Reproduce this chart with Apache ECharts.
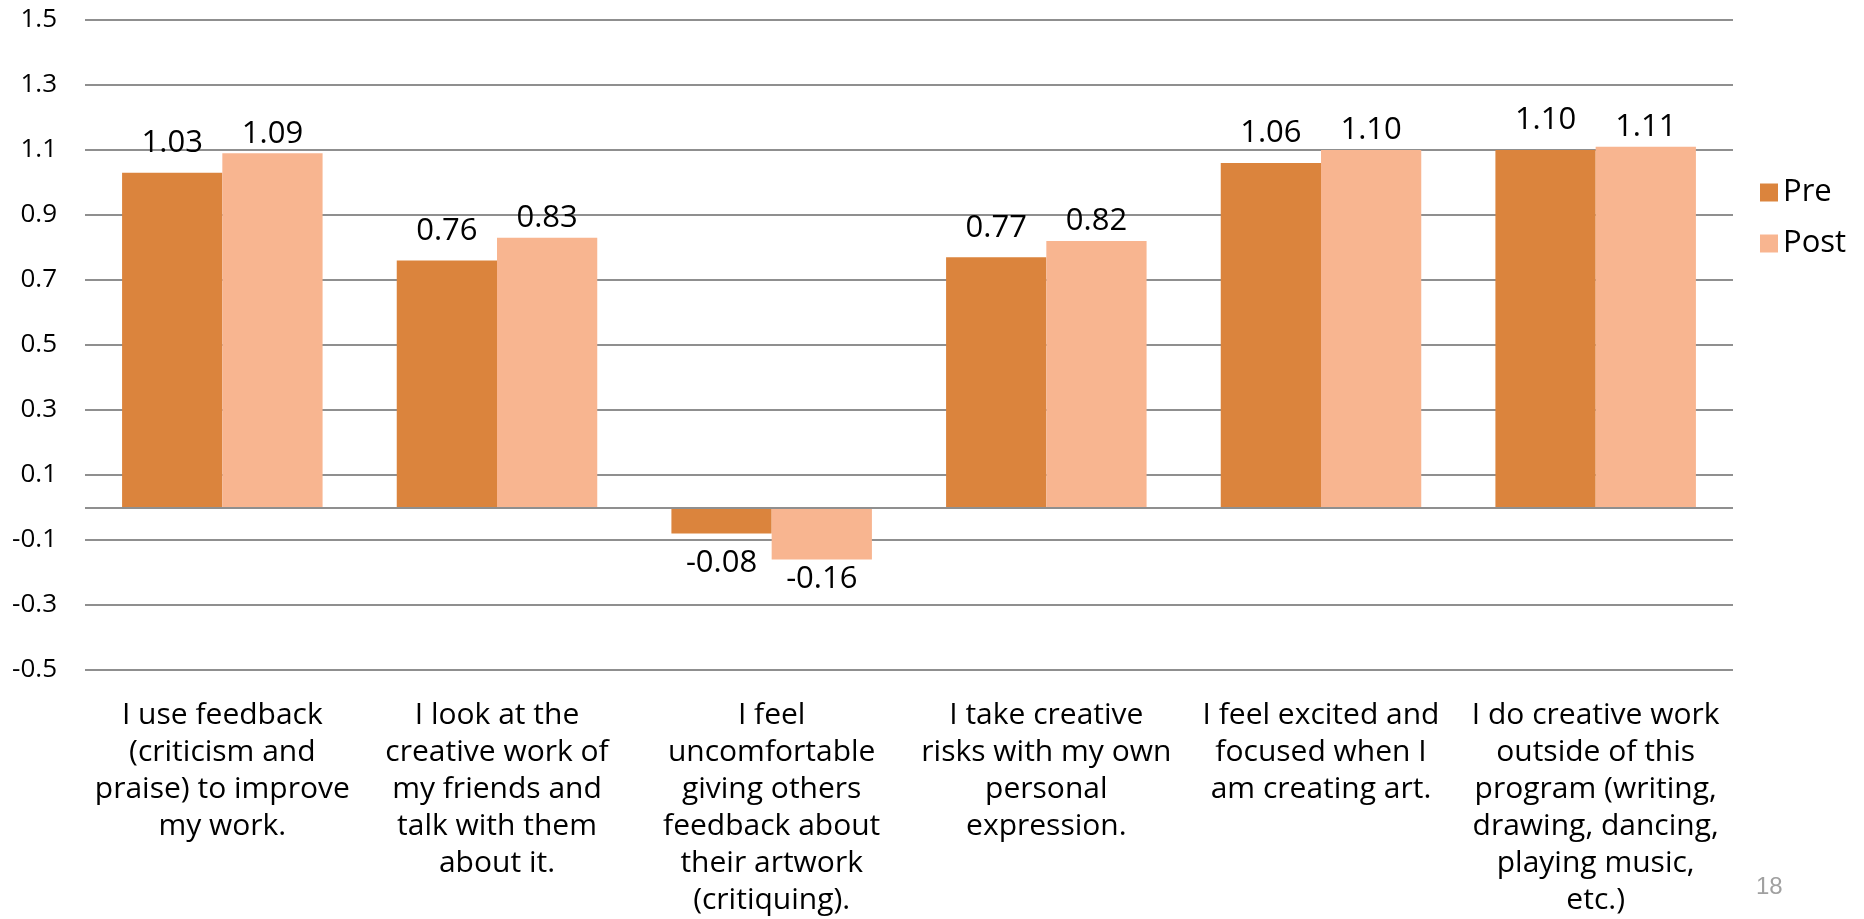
<!DOCTYPE html>
<html>
<head>
<meta charset="utf-8">
<script src="https://cdn.jsdelivr.net/npm/echarts@6/dist/echarts.min.js"></script>
<style>
  html, body { margin: 0; padding: 0; background: #fff; }
  #chart { width: 1864px; height: 919px; }
</style>
</head>
<body>
<div id="chart"></div>
<script>
// Survey statements (x-axis categories, pre-wrapped)
const categories = [
  'I use feedback\n(criticism and\npraise) to improve\nmy work.',
  'I look at the\ncreative work of\nmy friends and\ntalk with them\nabout it.',
  'I feel\nuncomfortable\ngiving others\nfeedback about\ntheir artwork\n(critiquing).',
  'I take creative\nrisks with my own\npersonal\nexpression.',
  'I feel excited and\nfocused when I\nam creating art.',
  'I do creative work\noutside of this\nprogram (writing,\ndrawing, dancing,\nplaying music,\netc.)'
];

// Mean scores
const preValues = [1.03, 0.76, -0.08, 0.77, 1.06, 1.10];
const postValues = [1.09, 0.83, -0.16, 0.82, 1.10, 1.11];

// Value axis range
const yMin = -0.5;
const yMax = 1.5;
const yStep = 0.2;

const FONT = '"Open Sans", "Noto Sans", sans-serif';
const GRID_COLOR = '#8f8f8f';

function withLabels(values) {
  return values.map(v => ({
    value: v,
    label: { position: v < 0 ? 'bottom' : 'top' }
  }));
}

function valueLabel(distance) {
  return {
    show: true,
    distance: distance,
    fontSize: 31,
    color: '#000',
    fontFamily: FONT,
    formatter: p => p.value.toFixed(2)
  };
}

const chart = echarts.init(document.getElementById('chart'));
chart.setOption({
  animation: false,
  textStyle: { fontFamily: FONT },
  grid: { left: 85, right: 131, top: 20, bottom: 247 },
  legend: {
    orient: 'vertical',
    left: 1755,
    top: 172,
    itemWidth: 18,
    itemHeight: 18,
    itemGap: 20,
    icon: 'rect',
    textStyle: { fontSize: 31, color: '#000', fontFamily: FONT },
    data: ['Pre', 'Post']
  },
  xAxis: {
    type: 'category',
    data: categories,
    axisLine: { show: false, onZero: false },
    axisTick: { show: false },
    axisLabel: {
      interval: 0,
      margin: 27,
      fontSize: 30,
      lineHeight: 37,
      color: '#000',
      fontFamily: FONT,
      align: 'center'
    }
  },
  yAxis: {
    type: 'value',
    min: yMin,
    max: yMax,
    interval: yStep,
    axisLine: { show: false },
    axisTick: { show: false },
    axisLabel: {
      margin: 28,
      align: 'right',
      fontSize: 26,
      color: '#000',
      fontFamily: FONT,
      formatter: v => v.toFixed(1)
    },
    splitLine: { lineStyle: { color: GRID_COLOR, width: 2 } }
  },
  series: [
    {
      name: 'Pre',
      type: 'bar',
      data: withLabels(preValues),
      barGap: '0%',
      barCategoryGap: '27%',
      itemStyle: { color: '#DB843D' },
      label: valueLabel(14),
      markLine: {
        silent: true,
        symbol: 'none',
        label: { show: false },
        lineStyle: { color: GRID_COLOR, width: 2, type: 'solid' },
        data: [{ yAxis: 0 }]
      }
    },
    {
      name: 'Post',
      type: 'bar',
      data: withLabels(postValues),
      barGap: '0%',
      barCategoryGap: '27%',
      itemStyle: { color: '#F8B590' },
      label: valueLabel(4)
    }
  ],
  graphic: [
    {
      type: 'text',
      left: 1756,
      top: 875,
      style: {
        text: '18',
        fontSize: 24,
        fill: '#a0a0a0',
        fontFamily: '"Liberation Sans", sans-serif'
      }
    }
  ]
});
</script>
</body>
</html>
